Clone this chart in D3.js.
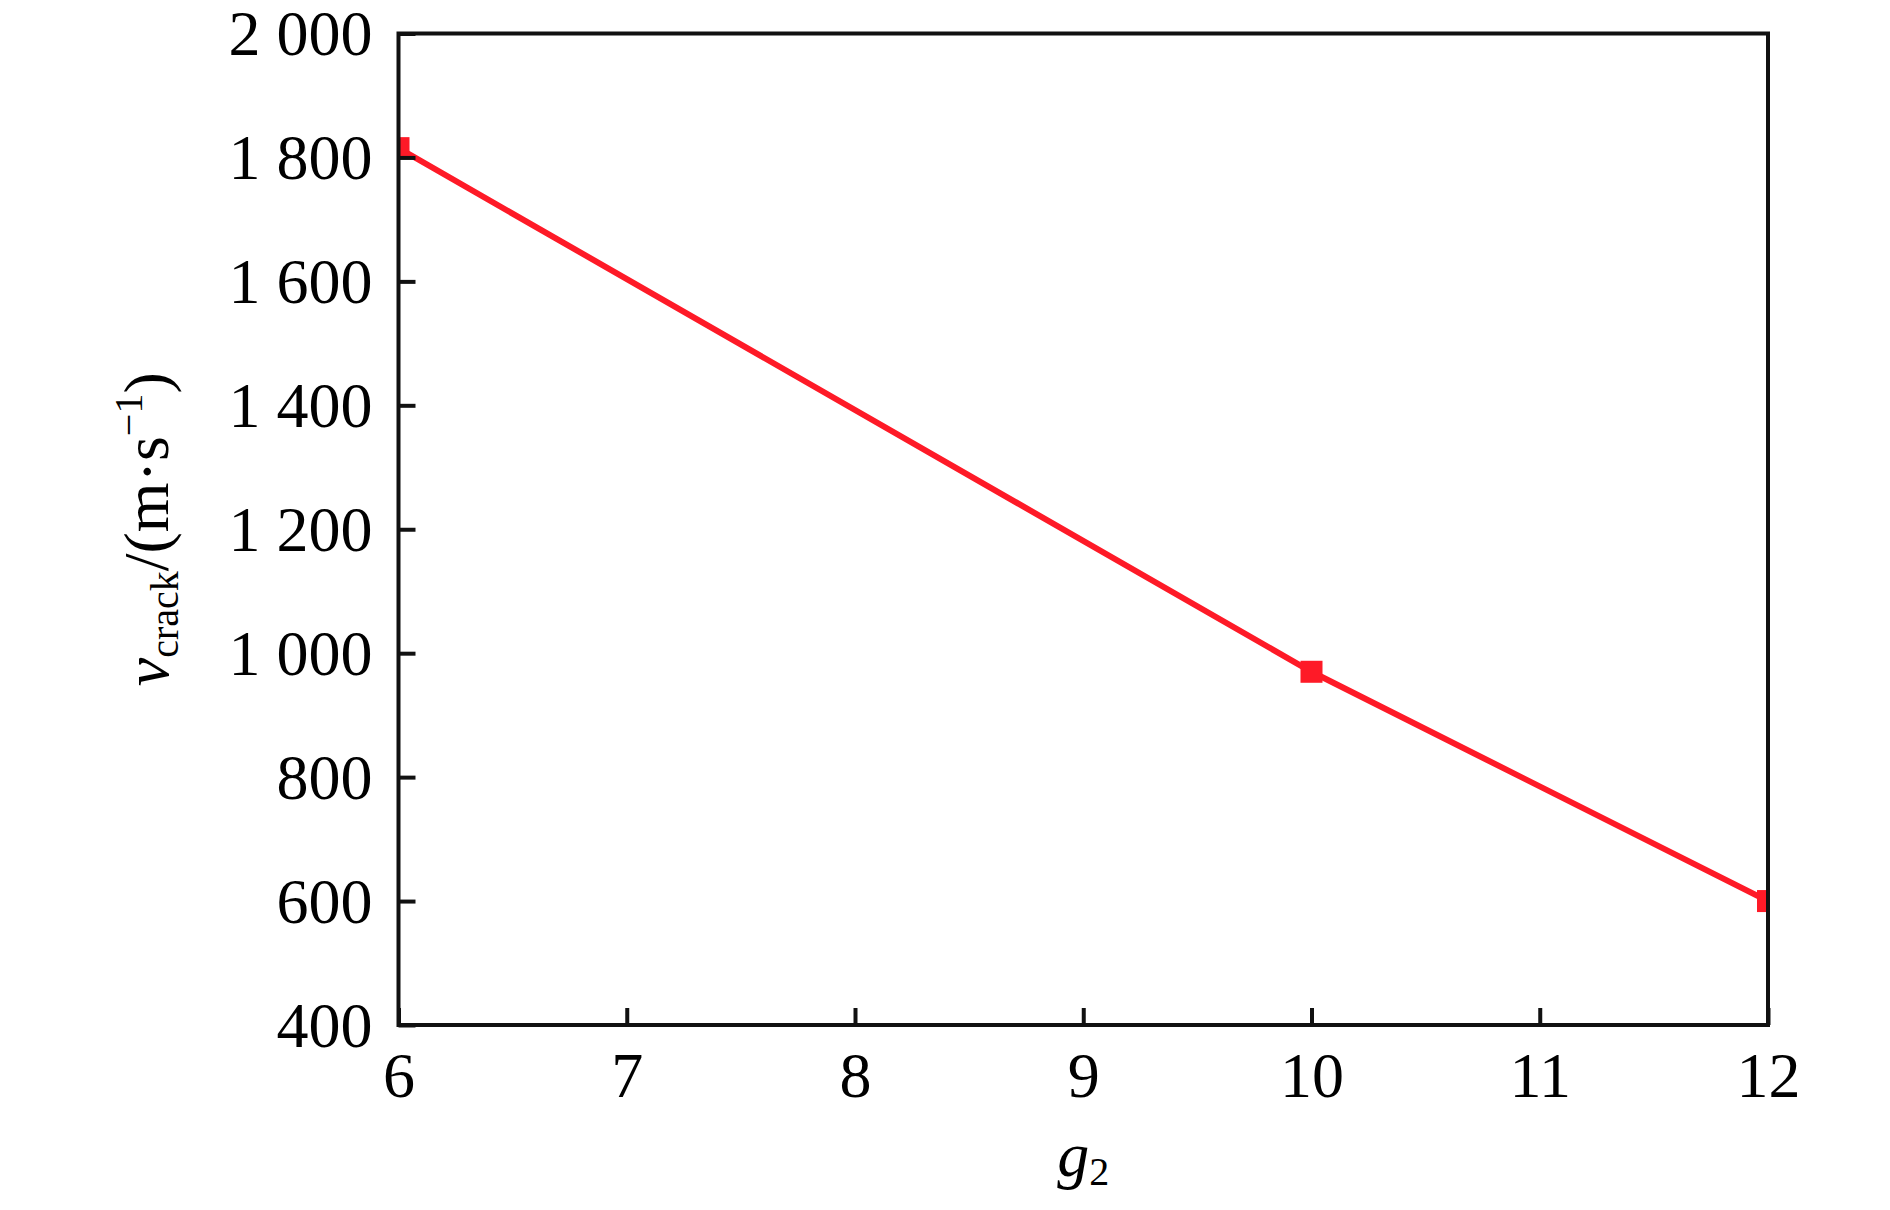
<!DOCTYPE html>
<html>
<head>
<meta charset="utf-8">
<script src="https://cdn.jsdelivr.net/npm/d3@7"></script>
<style>
  html, body { margin: 0; padding: 0; background: #fff; }
  svg { display: block; }
  text { font-family: "Liberation Serif", "Times New Roman", serif; fill: #000; }
</style>
</head>
<body>
<svg id="chart" width="1890" height="1210"></svg>
<script>
const g2Values = [6, 10, 12];
const crackSpeed = [1815, 970, 600];
const xTicks = [6, 7, 8, 9, 10, 11, 12];
const yTicks = [400, 600, 800, 1000, 1200, 1400, 1600, 1800, 2000];
const yTickLabels = ["400", "600", "800", "1 000", "1 200", "1 400", "1 600", "1 800", "2 000"];

(function () {
const svg = d3.select("#chart");
const pL = 398.5, pR = 1768, pT = 33.5, pB = 1025;
const x = d3.scaleLinear().domain([6, 12]).range([pL, pR]);
const y = d3.scaleLinear().domain([400, 2000]).range([pB, pT]);
const red = "#fe1a27";

svg.append("defs").append("clipPath").attr("id", "plotclip")
  .append("rect").attr("x", pL).attr("y", pT)
  .attr("width", pR - pL).attr("height", pB - pT);

const plot = svg.append("g").attr("clip-path", "url(#plotclip)");

const line = d3.line().x((d, i) => x(g2Values[i])).y(d => y(d));
plot.append("path").datum(crackSpeed)
  .attr("d", line).attr("fill", "none")
  .attr("stroke", red).attr("stroke-width", 6);

const ms = 22;
plot.selectAll("rect.m").data(crackSpeed).enter().append("rect")
  .attr("class", "m")
  .attr("x", (d, i) => x(g2Values[i]) - ms / 2)
  .attr("y", d => y(d) - ms / 2)
  .attr("width", ms).attr("height", ms)
  .attr("fill", red);

const xAxis = d3.axisBottom(x).tickValues(xTicks).tickSizeInner(-17).tickSizeOuter(0).tickFormat(d3.format("d"));
const gx = svg.append("g").attr("transform", `translate(0,${pB})`).call(xAxis);
gx.select(".domain").remove();
gx.selectAll(".tick line").attr("stroke", "#111").attr("stroke-width", 4);
gx.selectAll(".tick text").attr("y", 0).attr("dy", null)
  .attr("transform", "translate(0,72)")
  .style("font-family", '"Liberation Serif", serif')
  .style("font-size", "64px").attr("fill", "#000");

const yAxis = d3.axisLeft(y).tickValues(yTicks).tickSizeInner(-17).tickSizeOuter(0)
  .tickFormat((d, i) => yTickLabels[i]);
const gy = svg.append("g").attr("transform", `translate(${pL},0)`).call(yAxis);
gy.select(".domain").remove();
gy.selectAll(".tick line").attr("stroke", "#111").attr("stroke-width", 4);
gy.selectAll(".tick text").attr("x", -26).attr("dy", "0.33em")
  .style("font-family", '"Liberation Serif", serif')
  .style("font-size", "64px").attr("fill", "#000");

svg.append("rect").attr("x", pL).attr("y", pT)
  .attr("width", pR - pL).attr("height", pB - pT)
  .attr("fill", "none").attr("stroke", "#111").attr("stroke-width", 4);

const xl = svg.append("text").attr("x", (pL + pR) / 2).attr("y", 1176)
  .attr("text-anchor", "middle").style("font-size", "64px");
xl.append("tspan").style("font-style", "italic").text("g");
xl.append("tspan").attr("dy", 9).style("font-size", "40px").text("2");

const yl = svg.append("text")
  .attr("transform", `translate(168,${(pT + pB) / 2}) rotate(-90)`)
  .attr("text-anchor", "middle").style("font-size", "64px");
yl.append("tspan").style("font-style", "italic").text("v");
yl.append("tspan").attr("dy", 10).style("font-size", "40px").text("crack");
yl.append("tspan").attr("dy", -10).text("/(m·s");
yl.append("tspan").attr("dy", -26).style("font-size", "40px").text("−1");
yl.append("tspan").attr("dy", 26).text(")");
})();
</script>
</body>
</html>
